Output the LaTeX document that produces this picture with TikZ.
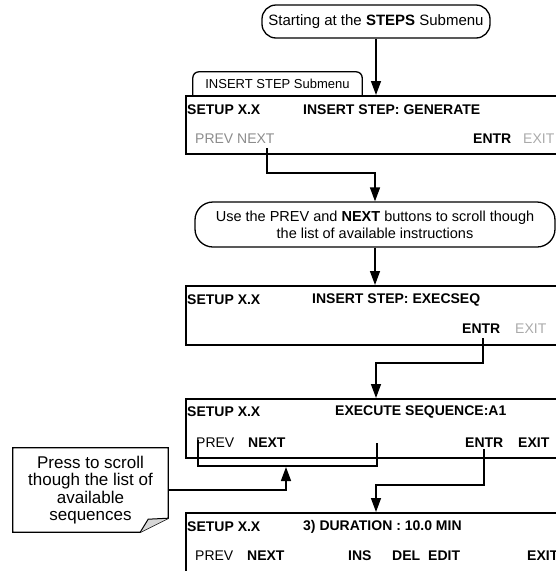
\documentclass[tikz,border=0pt]{standalone}
\usepackage{fontspec}
\setmainfont{Liberation Sans}
\usetikzlibrary{arrows.meta, positioning, calc}
\definecolor{keyGray}{RGB}{140, 140, 140}
\definecolor{offGray}{RGB}{170, 170, 170}
\definecolor{foldGray}{RGB}{215, 215, 215}

\begin{document}
\begin{tikzpicture}[
    x=1pt, y=-1pt,
    screen/.style={rectangle, draw, line width=1.5pt, minimum width=420pt, minimum height=58pt, anchor=north west, inner sep=0pt},
    bubble/.style={rectangle, draw, line width=1.3pt, rounded corners=14pt, align=center, font=\fontsize{15}{17}\selectfont},
    txt/.style={anchor=west, inner sep=0pt, font=\fontsize{14}{16}\selectfont\bfseries},
    key/.style={txt, font=\fontsize{14}{16}\selectfont},
    flow/.style={draw=black, line width=1.5pt, -{Triangle[length=14pt, width=10pt]}},
    wire/.style={draw=black, line width=1.5pt}
  ]
    \useasboundingbox (0,0) rectangle (556,571);
    \clip (0,0) rectangle (556,571);

    \node[bubble, minimum width=228pt, minimum height=33pt] (start) at (376,21.5) {Starting at the \textbf{STEPS} Submenu};

    % tab over the first screen
    \node[inner sep=0pt, minimum width=169pt, minimum height=23pt, font=\fontsize{13}{15}\selectfont] (tab) at (277.5,83.5) {INSERT STEP Submenu};
    \draw[line width=1.3pt, rounded corners=6pt] (tab.south west) -- (tab.north west) -- (tab.north east) -- (tab.south east);

    \node[screen] (scr1) at (185,95) {};
    \node[txt] (s1a) at (187,110) {SETUP X.X};
    \node[txt] (s1b) at (303,110) {INSERT STEP: GENERATE};
    \node[key, text=keyGray] (s1c) at (195,139) {PREV NEXT};
    \node[txt] (s1d) at (473,139) {ENTR};
    \node[key, text=offGray] (s1e) at (523,139) {EXIT};

    \node[bubble, minimum width=360pt, minimum height=45pt, rounded corners=18pt, font=\fontsize{14.5}{17}\selectfont] (use) at (375,224.5) {Use the PREV and \textbf{NEXT} buttons to scroll though\\the list of available instructions};

    \node[screen, minimum height=59pt] (scr2) at (185,285) {};
    \node[txt] (s2a) at (187,300) {SETUP X.X};
    \node[txt] (s2b) at (312,300) {INSERT STEP: EXECSEQ};
    \node[txt] (s2d) at (462,329) {ENTR};
    \node[key, text=offGray] (s2e) at (515,329) {EXIT};

    \node[screen, minimum height=59pt] (scr3) at (185,398) {};
    \node[txt] (s3a) at (187,412) {SETUP X.X};
    \node[txt] (s3b) at (335,412) {EXECUTE SEQUENCE:A1};
    \node[key] (s3c) at (196,443) {PREV};
    \node[txt] (s3d) at (248,443) {NEXT};
    \node[txt] (s3e) at (465,443) {ENTR};
    \node[txt] (s3f) at (518,443) {EXIT};

    \node[screen, minimum height=59.5pt] (scr4) at (185,512) {};
    \node[txt] (s4a) at (187,527) {SETUP X.X};
    \node[txt] (s4b) at (303,527) {3) DURATION : 10.0 MIN};
    \node[key] (s4c) at (195,556) {PREV};
    \node[txt] (s4d) at (247,556) {NEXT};
    \node[txt] (s4e) at (348,556) {INS};
    \node[txt] (s4f) at (392,556) {DEL};
    \node[txt] (s4g) at (428,556) {EDIT};
    \node[txt] (s4h) at (527,556) {EXIT};

    % note with folded corner
    \node[inner sep=0pt, minimum width=155pt, minimum height=84pt, align=center, font=\fontsize{17}{17.5}\selectfont] (note) at (90.5,490) {Press to scroll\\though the list of\\available\\sequences};
    \draw[line width=1.3pt] (note.north west) -- (note.north east) -- ([yshift=14pt]note.south east)
      .. controls ([xshift=-12pt,yshift=8pt]note.south east) .. ([xshift=-28pt]note.south east) -- (note.south west) -- cycle;
    \filldraw[fill=foldGray, line width=1pt] ([yshift=14pt]note.south east) -- ([xshift=-20pt,yshift=13pt]note.south east) -- ([xshift=-28pt]note.south east);

    \coordinate (n1) at (267,148);
    \coordinate (e2) at (483,338);
    \coordinate (p3) at (198,440);
    \coordinate (n3) at (377,443);
    \coordinate (e3) at (484,449);
    \coordinate (scrollTip) at (286,467);

    \path[flow] (start.south) -- (start.south |- scr1.north);
    \path[flow] (n1) -- ++(0,25) -| (use.north);
    \path[flow] (use.south) -- (use.south |- scr2.north);
    \path[flow] (e2) -- ++(0,25) -| (start.south |- scr3.north);
    \path[wire] (p3) -- ++(0,26) -| (n3);
    \path[flow] (note.east) -| (scrollTip);
    \path[flow] (e3) -- ++(0,36) -| (start.south |- scr4.north);
\end{tikzpicture}
\end{document}
